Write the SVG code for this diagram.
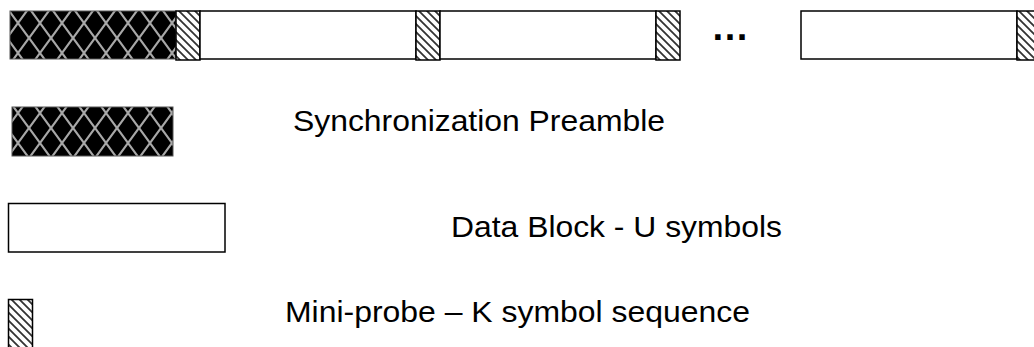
<svg xmlns="http://www.w3.org/2000/svg" width="1034" height="347" viewBox="0 0 1034 347">
<style>
.txt{font-family:"Liberation Sans",Arial,sans-serif;font-size:30px;fill:#000}
.pre{fill:url(#cross);stroke:#555;stroke-width:1}
.data{fill:#fff;stroke:#000;stroke-width:1.5}
.probe{fill:url(#hatch);stroke:#000;stroke-width:1.5}
</style>
<defs>
<pattern id="cross" patternUnits="userSpaceOnUse" x="7" y="8" width="22" height="30">
<rect width="22" height="30" fill="#000"/>
<path d="M0,0 L22,30 M22,0 L0,30" stroke="#a8a8a8" stroke-width="2.2" fill="none"/>
</pattern>
<pattern id="hatch" patternUnits="userSpaceOnUse" width="8" height="8">
<rect width="8" height="8" fill="#fff"/>
<path d="M-2,-2 L10,10 M-2,6 L2,10 M6,-2 L10,2" stroke="#333" stroke-width="1.8" fill="none"/>
</pattern>
</defs>
<g id="frame">
<g id="preamble-top"><rect class="pre" x="10" y="11" width="166" height="48"/></g>
<g id="probe-1"><rect class="probe" x="176" y="11" width="24" height="49"/></g>
<g id="data-1"><rect class="data" x="200" y="11" width="216" height="48"/></g>
<g id="probe-2"><rect class="probe" x="416" y="11" width="24" height="49"/></g>
<g id="data-2"><rect class="data" x="440" y="11" width="216" height="48"/></g>
<g id="probe-3"><rect class="probe" x="656" y="11" width="24" height="49"/></g>
<g id="ellipsis"><text x="711" y="39.5" style="font-family:'Liberation Sans',Arial,sans-serif;font-size:38px;font-weight:bold">…</text></g>
<g id="data-n"><rect class="data" x="801" y="11" width="216" height="48"/></g>
<g id="probe-n"><rect class="probe" x="1017" y="11" width="24" height="49"/></g>
</g>
<g id="legend-preamble">
<rect class="pre" x="12" y="107" width="161" height="49"/>
<text class="txt" x="293" y="131" textLength="372" lengthAdjust="spacingAndGlyphs">Synchronization Preamble</text>
</g>
<g id="legend-data">
<rect class="data" x="8.5" y="203.5" width="216.5" height="48.5"/>
<text class="txt" x="451" y="237" textLength="331" lengthAdjust="spacingAndGlyphs">Data Block - U symbols</text>
</g>
<g id="legend-probe">
<rect class="probe" x="8.5" y="299.5" width="24" height="52"/>
<text class="txt" x="285" y="322" textLength="465" lengthAdjust="spacingAndGlyphs">Mini-probe – K symbol sequence</text>
</g>
</svg>
